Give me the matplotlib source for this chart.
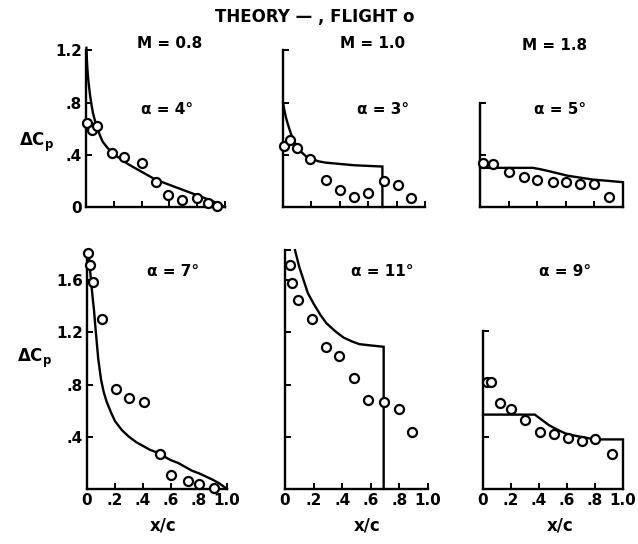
import numpy as np
import matplotlib
matplotlib.use("Agg")
import matplotlib.pyplot as plt

plt.rcParams['font.family'] = ['DejaVu Sans']
plt.rcParams['font.weight'] = 'bold'

W, H = 638, 544

# --- M = 0.8, alpha = 4 deg ---
th_08_4_x = [0.003, 0.006, 0.01, 0.015, 0.02, 0.03, 0.04, 0.05, 0.065, 0.08, 0.1, 0.12, 0.15, 0.18, 0.22,
             0.26, 0.3, 0.35, 0.4, 0.45, 0.5, 0.55, 0.6, 0.65, 0.7, 0.75, 0.8, 0.85, 0.9, 0.95, 1.0]
th_08_4_y = [1.22, 1.14, 1.06, 0.99, 0.94, 0.85, 0.78, 0.72, 0.66, 0.61, 0.55, 0.50, 0.46, 0.42, 0.39,
             0.36, 0.33, 0.30, 0.27, 0.24, 0.21, 0.19, 0.17, 0.15, 0.13, 0.11, 0.09, 0.07, 0.05, 0.025, 0.0]
fl_08_4_x = [0.01, 0.04, 0.077, 0.185, 0.27, 0.40, 0.50, 0.59, 0.69, 0.80, 0.88, 0.94]
fl_08_4_y = [0.64, 0.59, 0.62, 0.41, 0.38, 0.34, 0.19, 0.09, 0.05, 0.07, 0.03, 0.01]

# --- M = 1.0, alpha = 3 deg ---
th_10_3_x = [0.0, 0.01, 0.02, 0.03, 0.05, 0.07, 0.1, 0.13, 0.16, 0.2, 0.25, 0.3, 0.4, 0.5, 0.6, 0.7, 0.7]
th_10_3_y = [0.80, 0.74, 0.69, 0.65, 0.58, 0.52, 0.46, 0.42, 0.39, 0.37, 0.35, 0.34, 0.33, 0.32, 0.315, 0.31, 0.0]
fl_10_3_x = [0.01, 0.05, 0.10, 0.19, 0.30, 0.40, 0.50, 0.60, 0.71, 0.81, 0.90]
fl_10_3_y = [0.47, 0.51, 0.45, 0.37, 0.21, 0.13, 0.08, 0.11, 0.20, 0.17, 0.07]

# --- M = 1.8, alpha = 5 deg ---
th_18_5_x = [0.0, 0.37, 0.42, 0.5, 0.61, 0.7, 0.79, 0.9, 1.0, 1.0]
th_18_5_y = [0.30, 0.30, 0.29, 0.27, 0.24, 0.225, 0.21, 0.20, 0.19, 0.0]
fl_18_5_x = [0.02, 0.09, 0.20, 0.31, 0.40, 0.51, 0.60, 0.70, 0.80, 0.90]
fl_18_5_y = [0.34, 0.33, 0.27, 0.23, 0.21, 0.19, 0.19, 0.18, 0.18, 0.08]

# --- M = 0.8, alpha = 7 deg ---
th_08_7_x = [0.012, 0.02, 0.03, 0.04, 0.05, 0.06, 0.07, 0.08, 0.1, 0.12, 0.14, 0.17, 0.2, 0.25, 0.3,
             0.35, 0.4, 0.45, 0.5, 0.55, 0.6, 0.65, 0.7, 0.75, 0.8, 0.85, 0.9, 0.95, 1.0]
th_08_7_y = [1.82, 1.70, 1.58, 1.47, 1.37, 1.24, 1.12, 1.00, 0.84, 0.74, 0.67, 0.59, 0.52, 0.45, 0.40,
             0.36, 0.33, 0.30, 0.28, 0.25, 0.22, 0.20, 0.17, 0.14, 0.12, 0.095, 0.07, 0.04, 0.0]
fl_08_7_x = [0.01, 0.02, 0.04, 0.11, 0.21, 0.30, 0.41, 0.52, 0.60, 0.72, 0.80, 0.91]
fl_08_7_y = [1.81, 1.72, 1.59, 1.30, 0.77, 0.70, 0.67, 0.27, 0.11, 0.06, 0.04, 0.01]

# --- M = 1.0, alpha = 11 deg ---
th_10_11_x = [0.07, 0.1, 0.13, 0.16, 0.2, 0.25, 0.29, 0.35, 0.41, 0.47, 0.52, 0.6, 0.69, 0.69]
th_10_11_y = [1.83, 1.70, 1.60, 1.50, 1.42, 1.33, 1.27, 1.21, 1.16, 1.13, 1.11, 1.10, 1.09, 0.0]
fl_10_11_x = [0.035, 0.047, 0.09, 0.19, 0.29, 0.38, 0.48, 0.58, 0.69, 0.80, 0.89]
fl_10_11_y = [1.72, 1.58, 1.45, 1.30, 1.09, 1.02, 0.85, 0.68, 0.67, 0.61, 0.44]

# --- M = 1.8, alpha = 9 deg ---
th_18_9_x = [0.0, 0.37, 0.42, 0.47, 0.53, 0.59, 0.65, 0.70, 0.80, 1.0, 1.0]
th_18_9_y = [0.57, 0.57, 0.53, 0.49, 0.455, 0.425, 0.41, 0.40, 0.38, 0.38, 0.0]
fl_18_9_x = [0.03, 0.06, 0.12, 0.20, 0.30, 0.41, 0.51, 0.61, 0.71, 0.80, 0.92]
fl_18_9_y = [0.82, 0.82, 0.66, 0.61, 0.53, 0.44, 0.42, 0.39, 0.37, 0.38, 0.27]

panels = [
    # left, bottom, width (px), ytop, theory x/y, flight x/y
    (86, 337, 139, 1.2, th_08_4_x, th_08_4_y, fl_08_4_x, fl_08_4_y),
    (283, 337, 142, 1.2, th_10_3_x, th_10_3_y, fl_10_3_x, fl_10_3_y),
    (480, 337, 143, 0.8, th_18_5_x, th_18_5_y, fl_18_5_x, fl_18_5_y),
    (87, 55, 140, 1.82, th_08_7_x, th_08_7_y, fl_08_7_x, fl_08_7_y),
    (285, 55, 143, 1.83, th_10_11_x, th_10_11_y, fl_10_11_x, fl_10_11_y),
    (483, 55, 140, 1.21, th_18_9_x, th_18_9_y, fl_18_9_x, fl_18_9_y),
]

fig = plt.figure(figsize=(W / 100, H / 100), dpi=100)

for i, (l, b, w, ytop, tx, ty, fx, fy) in enumerate(panels):
    h = ytop * 130.5
    ax = fig.add_axes([l / W, b / H, w / W, h / H])
    ax.plot(tx, ty, color='black', lw=1.7, solid_joinstyle='miter', clip_on=False)
    ax.plot(fx, fy, 'o', ms=6.5, mfc='white', mec='black', mew=1.6, clip_on=False, zorder=3)
    ax.set_xlim(0, 1)
    ax.set_ylim(0, ytop)
    for s in ['top', 'right']:
        ax.spines[s].set_visible(False)
    for s in ['left', 'bottom']:
        ax.spines[s].set_linewidth(1.7)
    yt = [v for v in [0.4, 0.8, 1.2, 1.6] if v < ytop - 0.05] + [ytop]
    ax.set_yticks(yt)
    ax.set_xticks([0, 0.2, 0.4, 0.6, 0.8, 1.0])
    ax.tick_params(direction='in', length=4, width=1.4, labelsize=11, pad=3)
    if i < 3:
        ax.set_xticklabels([])
    else:
        ax.set_xticklabels(['0', '.2', '.4', '.6', '.8', '1.0'])
    if i == 0:
        ax.set_yticks([0, 0.4, 0.8, 1.2])
        ax.set_yticklabels(['0', '.4', '.8', '1.2'])
    elif i == 3:
        ax.set_yticks([0.4, 0.8, 1.2, 1.6, ytop])
        ax.set_yticklabels(['.4', '.8', '1.2', '1.6', ''])
    else:
        ax.set_yticklabels([])


def ftext(x, y, s, size=11, **kw):
    fig.text(x / W, 1 - y / H, s, fontsize=size, ha='center', va='center', **kw)


ftext(315, 17, 'THEORY — , FLIGHT o', 12)
ftext(170, 43, 'M = 0.8')
ftext(373, 43, 'M = 1.0')
ftext(555, 45, 'M = 1.8')

ftext(167, 110, 'α = 4°')
ftext(383, 110, 'α = 3°')
ftext(560, 110, 'α = 5°')
ftext(173, 272, 'α = 7°')
ftext(382, 272, 'α = 11°')
ftext(565, 272, 'α = 9°')

ftext(37, 142, r'$\Delta\mathbf{C}_\mathbf{p}$', 12)
ftext(35, 358, r'$\Delta\mathbf{C}_\mathbf{p}$', 12)

for xc in [163, 367, 560]:
    ftext(xc, 525, 'x/c', 12)

fig.savefig('out.png', dpi=100)
